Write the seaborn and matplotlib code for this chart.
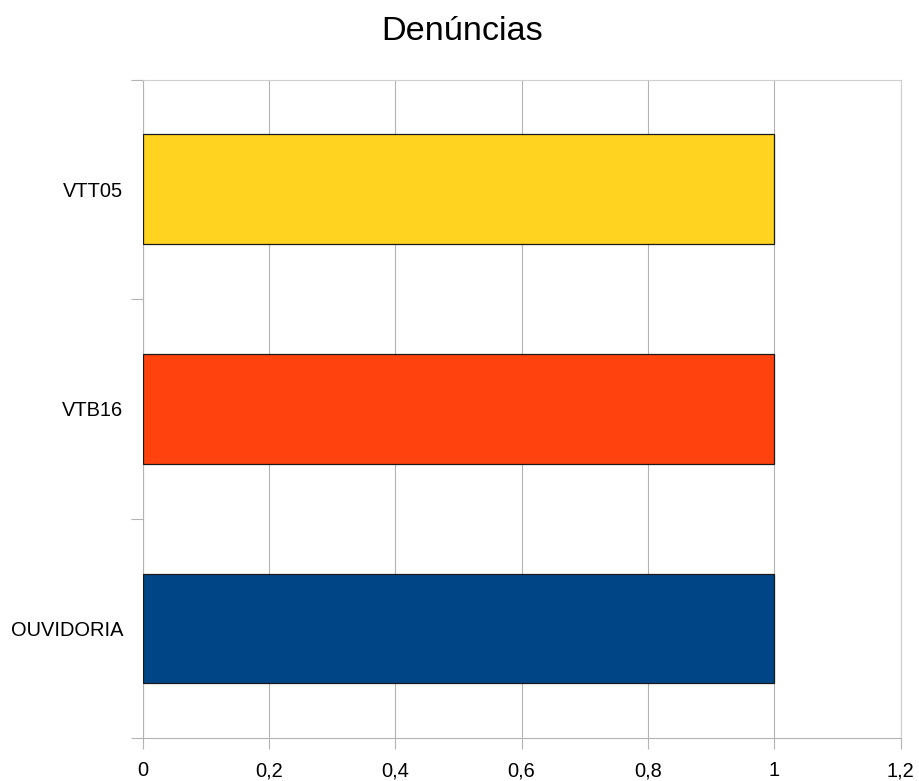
import matplotlib
matplotlib.use("Agg")
import matplotlib.pyplot as plt
import seaborn as sns
import pandas as pd
from matplotlib.ticker import FixedLocator, FuncFormatter

categories = ["VTT05", "VTB16", "OUVIDORIA"]
values = [1, 1, 1]
colors = ["#FFD320", "#FF420E", "#004586"]
x_ticks = [0, 0.2, 0.4, 0.6, 0.8, 1.0, 1.2]

sns.set_theme(style="white")
plt.rcParams["font.family"] = ["Liberation Sans", "DejaVu Sans"]

df = pd.DataFrame({"categoria": categories, "valor": values})

fig = plt.figure(figsize=(9.19, 7.81), dpi=100)
ax = fig.add_axes([142.5 / 919, 1 - 738.3 / 781, (900.5 - 142.5) / 919, (738.3 - 79.5) / 781])

sns.barplot(data=df, x="valor", y="categoria", hue="categoria", palette=colors,
            order=categories, hue_order=categories, legend=False, width=0.5,
            edgecolor="#1a1a1a", linewidth=0.9, saturation=1, ax=ax, zorder=3)

ax.set_xlim(0, 1.2)
ax.set_ylim(2.5, -0.5)
ax.set_xlabel("")
ax.set_ylabel("")

grid_c = "#b3b3b3"
ax.xaxis.set_major_locator(FixedLocator(x_ticks))
ax.xaxis.set_major_formatter(FuncFormatter(lambda v, p: f"{v:g}".replace(".", ",")))
ax.grid(axis="x", color=grid_c, linewidth=0.8, zorder=0)
ax.set_axisbelow(True)

# category boundaries as major ticks, names on minor ticks
ax.yaxis.set_major_locator(FixedLocator([-0.5, 0.5, 1.5, 2.5]))
ax.yaxis.set_major_formatter(FuncFormatter(lambda v, p: ""))
ax.yaxis.set_minor_locator(FixedLocator([0, 1, 2]))
ax.set_yticks([0, 1, 2], labels=categories, minor=True)
ax.tick_params(axis="y", which="major", direction="out", length=8.3, width=0.8, color=grid_c, left=True)
ax.tick_params(axis="y", which="minor", length=0, pad=14, labelsize=14.4, labelcolor="#000000", left=True)
ax.tick_params(axis="x", which="major", direction="out", length=8, width=0.8, color=grid_c,
               pad=8.5, labelsize=14.4, labelcolor="#000000", bottom=True)

for side in ["left", "bottom", "top", "right"]:
    ax.spines[side].set_visible(True)
    ax.spines[side].set_color(grid_c)
    ax.spines[side].set_linewidth(0.8)
ax.spines["top"].set_color("#cfcfcf")
ax.spines["right"].set_color("#cfcfcf")

fig.text(462.5 / 919, 1 - 31 / 781, "Denúncias", ha="center", va="center", fontsize=24.7, color="#000000")

fig.savefig("out.png", dpi=100)
